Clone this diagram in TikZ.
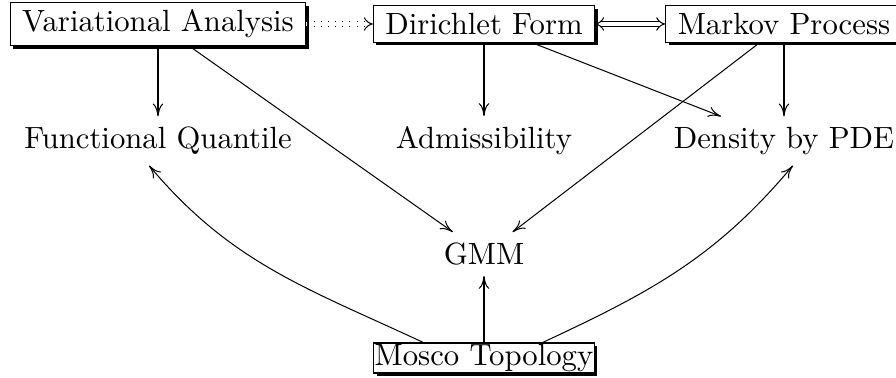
\documentclass[tikz,border=0pt]{standalone}
\usepackage{tikz}
\usetikzlibrary{calc, positioning, arrows.meta, shadows}
\tikzset{
    framebox/.style={rectangle, draw=black, line width=0.4pt, fill=white, inner xsep=3.9pt, inner ysep=2.4pt,
        drop shadow={shadow xshift=1pt, shadow yshift=-1pt, fill=black, opacity=1}},
    tightbox/.style={rectangle, draw=black, line width=0.4pt, fill=white, inner xsep=0.3pt, inner ysep=0.4pt,
        drop shadow={shadow xshift=1pt, shadow yshift=-1pt, fill=black, opacity=1}},
    plain/.style={rectangle, inner sep=3.3pt},
    arrow/.style={-{To[length=4.2pt, width=3.4pt]}, line width=0.33pt},
    dotarrow/.style={-{Implies}, double, double distance=1.2pt, dotted, line width=0.33pt},
    dblarrow/.style={{Implies}-{Implies}, double, double distance=1.2pt, line width=0.33pt}
}

\begin{document}
\begin{tikzpicture}[x=0.3257pt, y=-0.3257pt]
    \useasboundingbox (0, 0) rectangle (896, 378);

    % Top row
    \node[framebox] (va) at (158, 24) {Variational Analysis};
    \node[framebox] (df) at (484, 24) {Dirichlet Form};
    \node[framebox] (mp) at (784, 24) {Markov Process};

    % Middle row
    \node[plain] (fq) at (158, 141) {Functional Quantile};
    \node[plain] (ad) at (484, 141) {Admissibility};
    \node[plain] (dp) at (784, 141) {Density by PDE};

    % Lower rows
    \node[plain] (gmm) at (484, 254) {GMM};
    \node[tightbox] (mt) at (484, 358) {Mosco Topology};

    % Top row links
    \draw[dotarrow] (va) -- (df);
    \draw[dblarrow] (df) -- (mp);

    % Downward arrows
    \draw[arrow] (va) -- (fq);
    \draw[arrow] (df) -- (ad);
    \draw[arrow] (mp) -- (dp);
    \draw[arrow] (va) -- (gmm);
    \draw[arrow] (df) -- (dp);
    \draw[arrow] (mp) -- (gmm);

    % From Mosco Topology
    \draw[arrow] (mt) -- (gmm);
    \draw[arrow] ($(mt.north)+(-61, 0)$) to[out=155, in=-50] (fq.-110);
    \draw[arrow] ($(mt.north)+(59, 0)$) to[out=25, in=-130] (dp.-70);
\end{tikzpicture}
\end{document}
